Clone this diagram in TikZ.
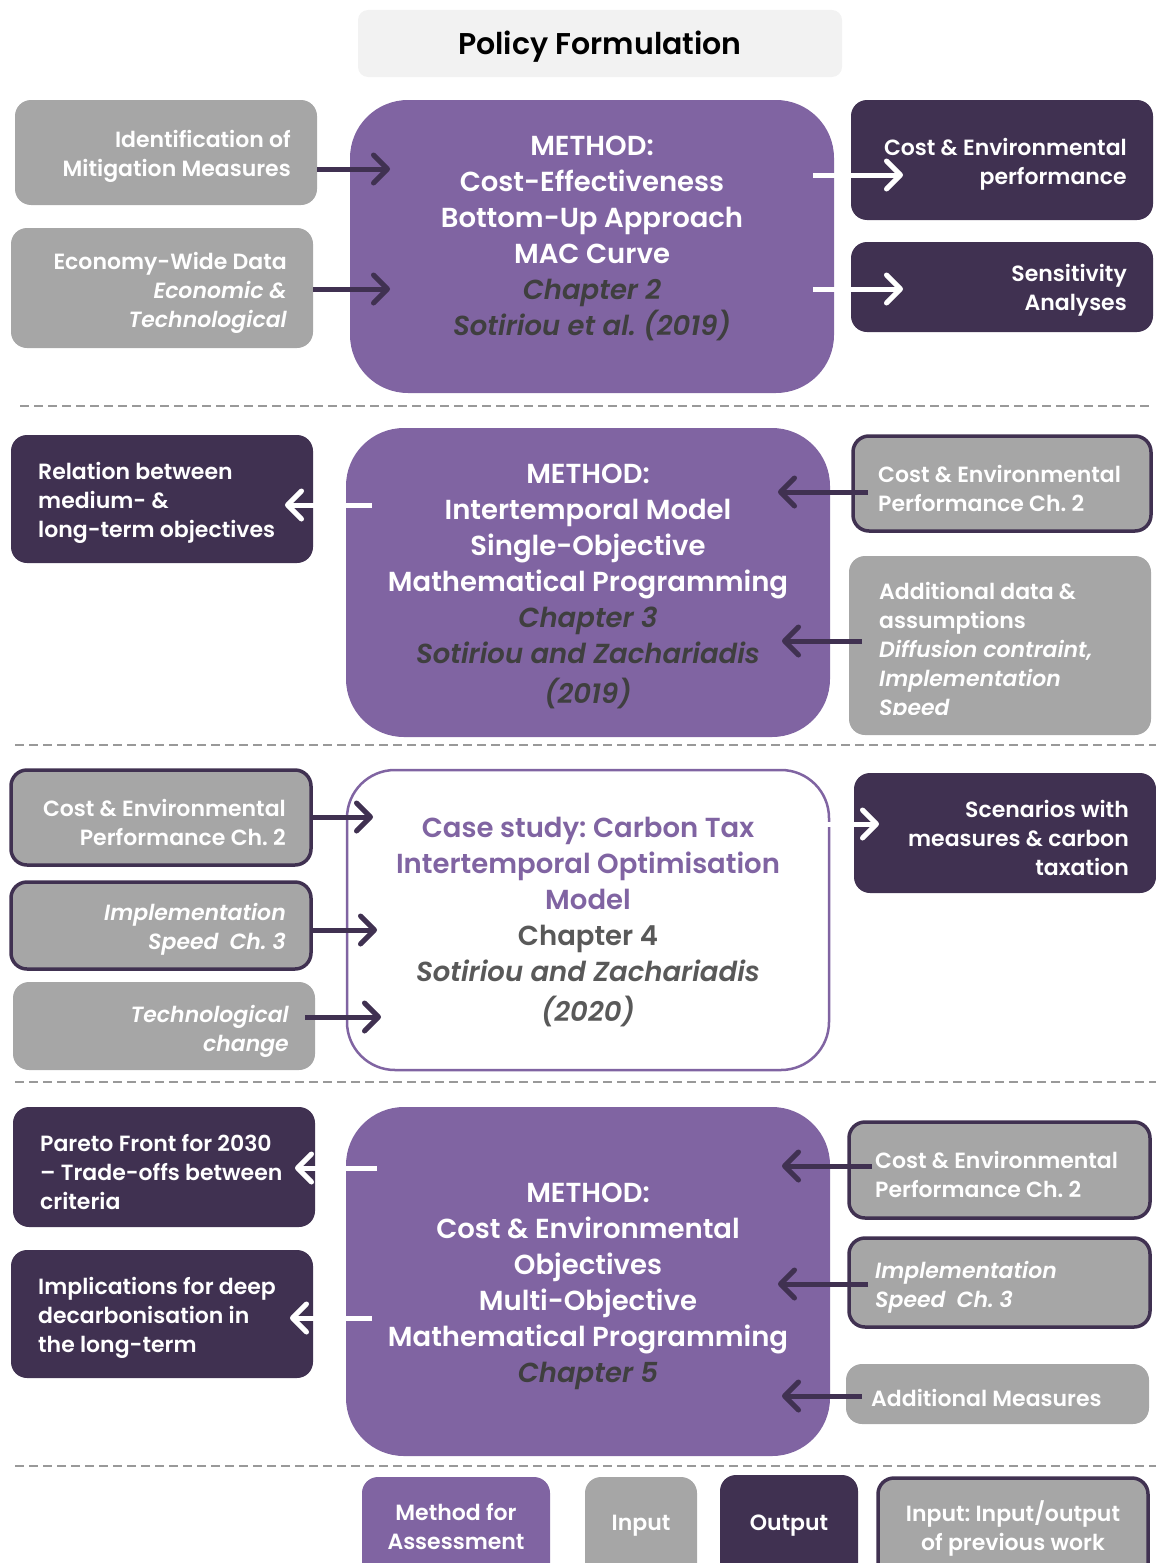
\documentclass[tikz,border=0pt]{standalone}
\usepackage{fontspec}
\setmainfont{Poppins}[BoldFont={Poppins SemiBold},BoldItalicFont={Poppins SemiBold Italic}]
\usetikzlibrary{arrows.meta,calc}
\definecolor{cpurple}{HTML}{8064A2}
\definecolor{cdark}{HTML}{403151}
\definecolor{cgray}{HTML}{A6A6A6}
\definecolor{ctitle}{HTML}{F2F2F2}
\definecolor{cchap}{HTML}{3F3F3F}
\definecolor{ccase}{HTML}{595959}
\frenchspacing
\begin{document}
\begin{tikzpicture}[x=1pt,y=-1pt,
  sbox/.style={rounded corners=16pt, inner sep=0pt, outer sep=0pt},
  gin/.style={sbox, fill=cgray},
  gprev/.style={sbox, fill=cgray, draw=cdark, line width=3.5pt},
  gout/.style={sbox, fill=cdark},
  meth/.style={rounded corners=58pt, fill=cpurple, inner sep=0pt, outer sep=0pt},
  small/.style={inner sep=0pt, yshift=-3pt, text=white, font=\bfseries\fontsize{22}{29}\selectfont},
  big/.style={inner sep=0pt, yshift=-3pt, align=center, text=white, font=\bfseries\fontsize{27.5}{36}\selectfont},
  arrtip/.style={-{Straight Barb[length=14pt,width=28pt,round]}},
  darr/.style={draw=cdark, line width=5pt, arrtip},
  warr/.style={draw=white, line width=5pt, arrtip},
  sepline/.style={draw=gray!80, line width=1.5pt, dash pattern=on 9pt off 5pt},
]
\useasboundingbox (0,0) rectangle (1156,1563);

% ---------- title ----------
\node[fill=ctitle, rounded corners=10pt, minimum width=484pt, minimum height=67pt] (title) at (600,43.5) {};
\node[inner sep=0pt, yshift=-3pt, font=\bfseries\fontsize{30}{36}\selectfont] (titlet) at (600,43.5) {Policy Formulation};

% ---------- block 1: cost-effectiveness ----------
\node[gin, minimum width=302pt, minimum height=105pt] (in1) at (166,152.5) {};
\node[small, align=right, anchor=east] (in1t) at (291,153) {Identification of\\Mitigation Measures};
\node[gin, minimum width=302pt, minimum height=120pt] (in2) at (162,288) {};
\node[small, align=right, anchor=east] (in2t) at (287,290) {Economy-Wide Data\\\itshape Economic \&\\\itshape Technological};

\node[meth, minimum width=484pt, minimum height=293pt] (m1) at (592,246.5) {};
\node[big] (m1t) at (592,235) {METHOD:\\Cost-Effectiveness\\Bottom-Up Approach\\MAC Curve\\
  {\color{cchap}\itshape Chapter 2}\\{\color{cchap}\itshape Sotiriou et al. (2019)}};

\node[gout, minimum width=302pt, minimum height=120pt] (o1) at (1002,160) {};
\node[small, align=right, anchor=east] (o1t) at (1127,161) {Cost \& Environmental\\performance};
\node[gout, minimum width=302pt, minimum height=90pt] (o2) at (1002,287) {};
\node[small, align=right, anchor=east] (o2t) at (1127,287.5) {Sensitivity\\Analyses};

\draw[darr] (in1.east |- 0,169) -- ($(m1.west |- 0,169)+(40,0)$);
\draw[darr] (in2.east |- 0,289) -- ($(m1.west |- 0,289)+(40,0)$);
\draw[warr] ($(m1.east |- 0,175)+(-21,0)$) -- ($(o1.west |- 0,175)+(52,0)$);
\draw[warr] ($(m1.east |- 0,289)+(-21,0)$) -- ($(o2.west |- 0,289)+(52,0)$);

\draw[sepline] (20,406) -- (1150,406);

% ---------- block 2: intertemporal model ----------
\node[gout, minimum width=302pt, minimum height=128pt] (o3) at (162,499) {};
\node[small, align=left, anchor=west] (o3t) at (38,500) {Relation between\\medium- \&\\long-term objectives};

\node[meth, minimum width=484pt, minimum height=309pt] (m2) at (588,582.5) {};
\node[big] (m2t) at (588,583) {METHOD:\\Intertemporal Model\\Single-Objective\\Mathematical Programming\\
  {\color{cchap}\itshape Chapter 3}\\{\color{cchap}\itshape Sotiriou and Zachariadis}\\[4pt]{\color{cchap}\itshape (2019)}};

\node[gprev, minimum width=298pt, minimum height=95pt] (ib1) at (1002,483.5) {};
\node[small, align=left, anchor=west] (ib1t) at (878,485) {Cost \& Environmental\\Performance Ch. 2};
\node[gin, minimum width=302pt, minimum height=179pt] (in3) at (1000,645.5) {};
\begin{scope}
  \clip (849,556) rectangle (1151,714);
  \node[small, align=left, anchor=north west] (in3t) at (879,579) {Additional data \&\\assumptions\\\itshape Diffusion contraint,\\\itshape Implementation\\\itshape Speed};
\end{scope}

\draw[warr] ($(m2.west |- 0,505)+(26,0)$) -- ($(o3.east |- 0,505)+(-28,0)$);
\draw[darr] ($(ib1.west |- 0,492)+(15,0)$) -- ($(m2.east |- 0,492)+(-52,0)$);
\draw[darr] ($(in3.west |- 0,641)+(13,0)$) -- ($(m2.east |- 0,641)+(-48,0)$);

\draw[sepline] (15,745) -- (1156,745);

% ---------- block 3: carbon tax case study ----------
\node[gprev, minimum width=300pt, minimum height=95pt] (ib2) at (161,817.5) {};
\node[small, align=right, anchor=east] (ib2t) at (286,819.5) {Cost \& Environmental\\Performance Ch. 2};
\node[gprev, minimum width=300pt, minimum height=87pt] (ib3) at (161,925.5) {};
\node[small, align=right, anchor=east] (ib3t) at (286,926.5) {\itshape Implementation\\\itshape Speed\enspace Ch. 3};
\node[gin, minimum width=302pt, minimum height=88pt] (in4) at (164,1026) {};
\node[small, align=right, anchor=east] (in4t) at (289,1028) {\itshape Technological\\\itshape change};

\node[sbox, rounded corners=48pt, draw=cpurple, fill=white, line width=2.5pt,
      minimum width=482pt, minimum height=300pt] (cs) at (588,920) {};
\node[big, text=cpurple] (cst) at (588,919.5) {Case study: Carbon Tax\\Intertemporal Optimisation\\Model\\
  {\color{ccase}Chapter 4}\\{\color{ccase}\itshape Sotiriou and Zachariadis}\\[4pt]{\color{ccase}\itshape (2020)}};

\node[gout, minimum width=302pt, minimum height=120pt] (o4) at (1005,833) {};
\node[small, align=right, anchor=east] (o4t) at (1129,835) {Scenarios with\\measures \& carbon\\taxation};

\draw[darr] (ib2.east |- 0,817) -- ($(cs.west |- 0,817)+(26,0)$);
\draw[darr] (ib3.east |- 0,930) -- ($(cs.west |- 0,930)+(30,0)$);
\draw[darr] ($(in4.east |- 0,1017)+(-10,0)$) -- ($(cs.west |- 0,1017)+(34,0)$);
\draw[warr] ($(cs.east |- 0,824)+(-4,0)$) -- ($(o4.west |- 0,824)+(25,0)$);

\draw[sepline] (15,1082) -- (1156,1082);

% ---------- block 4: multi-objective ----------
\node[gout, minimum width=302pt, minimum height=120pt] (o5) at (164,1167) {};
\node[small, align=left, anchor=west] (o5t) at (40,1169) {Pareto Front for 2030\\-- Trade-offs between\\criteria};
\node[gout, minimum width=302pt, minimum height=128pt] (o6) at (162,1314) {};
\node[small, align=left, anchor=west] (o6t) at (38,1315) {Implications for deep\\decarbonisation in\\the long-term};

\node[meth, minimum width=484pt, minimum height=349pt] (m3) at (588,1281.5) {};
\node[big] (m3t) at (588,1283.5) {METHOD:\\Cost \& Environmental\\Objectives\\Multi-Objective\\Mathematical Programming\\
  {\color{cchap}\itshape Chapter 5}};

\node[gprev, minimum width=301pt, minimum height=96pt] (ib4) at (999.5,1170) {};
\node[small, align=left, anchor=west] (ib4t) at (875,1171.5) {Cost \& Environmental\\Performance Ch. 2};
\node[gprev, minimum width=301pt, minimum height=89pt] (ib5) at (999.5,1282.5) {};
\node[small, align=left, anchor=west] (ib5t) at (875,1284) {\itshape Implementation\\\itshape Speed\enspace Ch. 3};
\node[gin, minimum width=303pt, minimum height=60pt] (in5) at (997.5,1394) {};
\node[small, anchor=west] (in5t) at (871,1395) {Additional Measures};

\draw[warr] ($(m3.west |- 0,1168)+(31,0)$) -- ($(o5.east |- 0,1168)+(-20,0)$);
\draw[warr] ($(m3.west |- 0,1318)+(26,0)$) -- ($(o6.east |- 0,1318)+(-23,0)$);
\draw[darr] ($(ib4.west |- 0,1166)+(23,0)$) -- ($(m3.east |- 0,1166)+(-48,0)$);
\draw[darr] ($(ib5.west |- 0,1284)+(19,0)$) -- ($(m3.east |- 0,1284)+(-52,0)$);
\draw[darr] ($(in5.west |- 0,1396)+(16,0)$) -- ($(m3.east |- 0,1396)+(-48,0)$);

\draw[sepline] (15,1466) -- (1156,1466);

% ---------- legend ----------
\node[sbox, fill=cpurple, minimum width=188pt, minimum height=120pt] (lg1) at (456,1537) {};
\node[small, align=center] (lg1t) at (456,1523) {Method for\\Assessment};
\node[gin, minimum width=112pt, minimum height=120pt] (lg2) at (641,1537) {};
\node[small] (lg2t) at (641,1523) {Input};
\node[gout, minimum width=138pt, minimum height=120pt] (lg3) at (789,1535) {};
\node[small] (lg3t) at (789,1523) {Output};
\node[gprev, minimum width=270pt, minimum height=120pt] (lg4) at (1013,1538) {};
\node[small, align=center] (lg4t) at (1013,1525) {Input: Input/output\\of previous work};

\end{tikzpicture}
\end{document}
